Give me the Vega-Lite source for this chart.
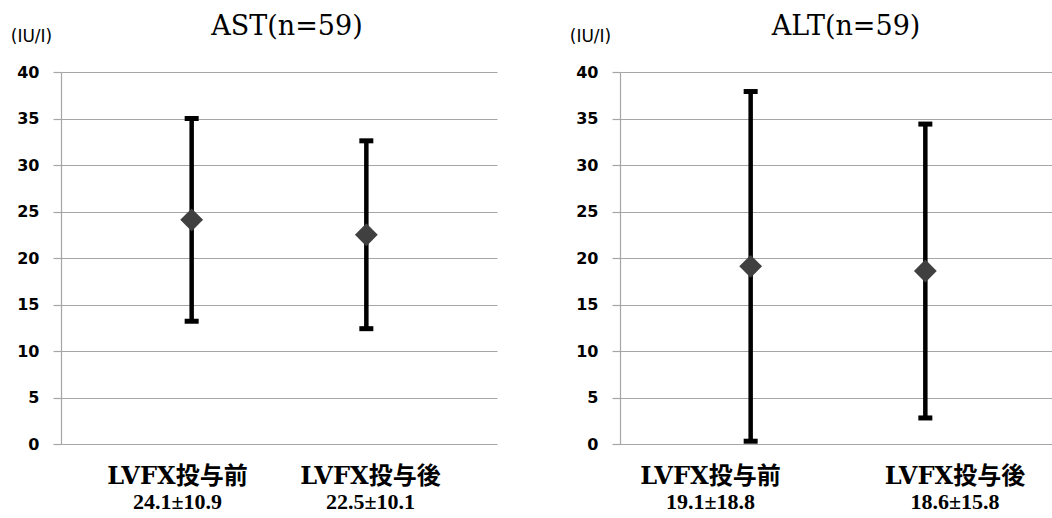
{
  "$schema": "https://vega.github.io/schema/vega-lite/v6.json",
  "background": "white",
  "padding": {"left": 10, "top": 13, "right": 0, "bottom": 0},
  "datasets": {
    "stats": [
      {"panel": "AST", "group": "前", "label": "LVFX投与前", "stat": "24.1±10.9", "mean": 24.1, "lo": 13.2, "hi": 35.0},
      {"panel": "AST", "group": "後", "label": "LVFX投与後", "stat": "22.5±10.1", "mean": 22.5, "lo": 12.4, "hi": 32.6},
      {"panel": "ALT", "group": "前", "label": "LVFX投与前", "stat": "19.1±18.8", "mean": 19.1, "lo": 0.3, "hi": 37.9},
      {"panel": "ALT", "group": "後", "label": "LVFX投与後", "stat": "18.6±15.8", "mean": 18.6, "lo": 2.8, "hi": 34.4}
    ]
  },
  "data": {"name": "stats"},
  "spacing": 72,
  "hconcat": [
    {
      "width": 436,
      "height": 372,
      "title": {"text": "AST(n=59)", "font": "DejaVu Serif", "fontSize": 27, "fontWeight": "normal", "color": "black", "frame": "group", "anchor": "middle", "dx": 8, "dy": 14, "offset": 0},
      "transform": [{"filter": "datum.panel === 'AST'"}],
      "layer": [
        {
          "encoding": {
            "x": {"field": "group", "type": "nominal", "sort": null, "scale": {"type": "point", "padding": 0.748}, "axis": null},
            "y": {"field": "lo", "type": "quantitative", "scale": {"domain": [0, 40], "nice": false, "zero": true}, "axis": {"title": "(IU/I)", "values": [0, 5, 10, 15, 20, 25, 30, 35, 40]}}
          },
          "layer": [
            {"mark": {"type": "rule", "color": "black", "strokeWidth": 4.5}, "encoding": {"y2": {"field": "hi"}}},
            {"mark": {"type": "tick", "color": "black", "thickness": 5, "size": 14, "opacity": 1}},
            {"mark": {"type": "tick", "color": "black", "thickness": 5, "size": 14, "opacity": 1}, "encoding": {"y": {"field": "hi", "type": "quantitative"}}},
            {"mark": {"type": "point", "shape": "diamond", "filled": true, "color": "#404040", "size": 520, "opacity": 1}, "encoding": {"y": {"field": "mean", "type": "quantitative"}}}
          ]
        },
        {
          "mark": {"type": "point", "opacity": 0},
          "encoding": {
            "x": {"field": "label", "type": "nominal", "sort": null, "scale": {"type": "point", "padding": 0.6295},
              "axis": {"orient": "bottom", "title": null, "domain": false, "ticks": false, "tickSize": 0, "grid": false, "labelAngle": 0, "labelFont": "DejaVu Serif, Noto Sans CJK JP", "labelFontSize": 24, "labelFontWeight": "bold", "labelColor": "black", "labelPadding": 20, "labelOffset": -5.5, "labelLimit": 0}}
          }
        },
        {
          "mark": {"type": "point", "opacity": 0},
          "encoding": {
            "x": {"field": "stat", "type": "nominal", "sort": null, "scale": {"type": "point", "padding": 0.6295},
              "axis": {"orient": "bottom", "title": null, "domain": false, "ticks": false, "tickSize": 0, "grid": false, "labelAngle": 0, "labelFont": "Liberation Serif", "labelFontSize": 22, "labelFontWeight": "bold", "labelColor": "black", "labelPadding": 18, "offset": 29, "labelOffset": -5.5, "labelLimit": 0}}
          }
        }
      ],
      "resolve": {"scale": {"x": "independent"}, "axis": {"x": "independent"}}
    },
    {
      "width": 436,
      "height": 372,
      "title": {"text": "ALT(n=59)", "font": "DejaVu Serif", "fontSize": 27, "fontWeight": "normal", "color": "black", "frame": "group", "anchor": "middle", "dx": 8, "dy": 14, "offset": 0},
      "transform": [{"filter": "datum.panel === 'ALT'"}],
      "layer": [
        {
          "encoding": {
            "x": {"field": "group", "type": "nominal", "sort": null, "scale": {"type": "point", "padding": 0.748}, "axis": null},
            "y": {"field": "lo", "type": "quantitative", "scale": {"domain": [0, 40], "nice": false, "zero": true}, "axis": {"title": "(IU/I)", "values": [0, 5, 10, 15, 20, 25, 30, 35, 40]}}
          },
          "layer": [
            {"mark": {"type": "rule", "color": "black", "strokeWidth": 4.5}, "encoding": {"y2": {"field": "hi"}}},
            {"mark": {"type": "tick", "color": "black", "thickness": 5, "size": 14, "opacity": 1}},
            {"mark": {"type": "tick", "color": "black", "thickness": 5, "size": 14, "opacity": 1}, "encoding": {"y": {"field": "hi", "type": "quantitative"}}},
            {"mark": {"type": "point", "shape": "diamond", "filled": true, "color": "#404040", "size": 520, "opacity": 1}, "encoding": {"y": {"field": "mean", "type": "quantitative"}}}
          ]
        },
        {
          "mark": {"type": "point", "opacity": 0},
          "encoding": {
            "x": {"field": "label", "type": "nominal", "sort": null, "scale": {"type": "point", "padding": 0.3916},
              "axis": {"orient": "bottom", "title": null, "domain": false, "ticks": false, "tickSize": 0, "grid": false, "labelAngle": 0, "labelFont": "DejaVu Serif, Noto Sans CJK JP", "labelFontSize": 24, "labelFontWeight": "bold", "labelColor": "black", "labelPadding": 20, "labelOffset": -5.75, "labelLimit": 0}}
          }
        },
        {
          "mark": {"type": "point", "opacity": 0},
          "encoding": {
            "x": {"field": "stat", "type": "nominal", "sort": null, "scale": {"type": "point", "padding": 0.3916},
              "axis": {"orient": "bottom", "title": null, "domain": false, "ticks": false, "tickSize": 0, "grid": false, "labelAngle": 0, "labelFont": "Liberation Serif", "labelFontSize": 22, "labelFontWeight": "bold", "labelColor": "black", "labelPadding": 18, "offset": 29, "labelOffset": -5.75, "labelLimit": 0}}
          }
        }
      ],
      "resolve": {"scale": {"x": "independent"}, "axis": {"x": "independent"}}
    }
  ],
  "config": {
    "view": {"stroke": null},
    "axisY": {
      "grid": true, "gridColor": "#a6a6a6", "gridWidth": 1.2,
      "domainColor": "#a6a6a6", "domainWidth": 1.2,
      "tickColor": "#a6a6a6", "tickWidth": 1.2, "tickSize": 8,
      "labelFont": "DejaVu Sans", "labelFontSize": 16, "labelFontWeight": "bold", "labelColor": "black", "labelPadding": 14,
      "titleFont": "DejaVu Sans", "titleFontSize": 17, "titleFontWeight": "normal", "titleColor": "black",
      "titleAngle": 0, "titleX": -30, "titleY": -36, "titleAlign": "center", "titleBaseline": "middle"
    }
  }
}
